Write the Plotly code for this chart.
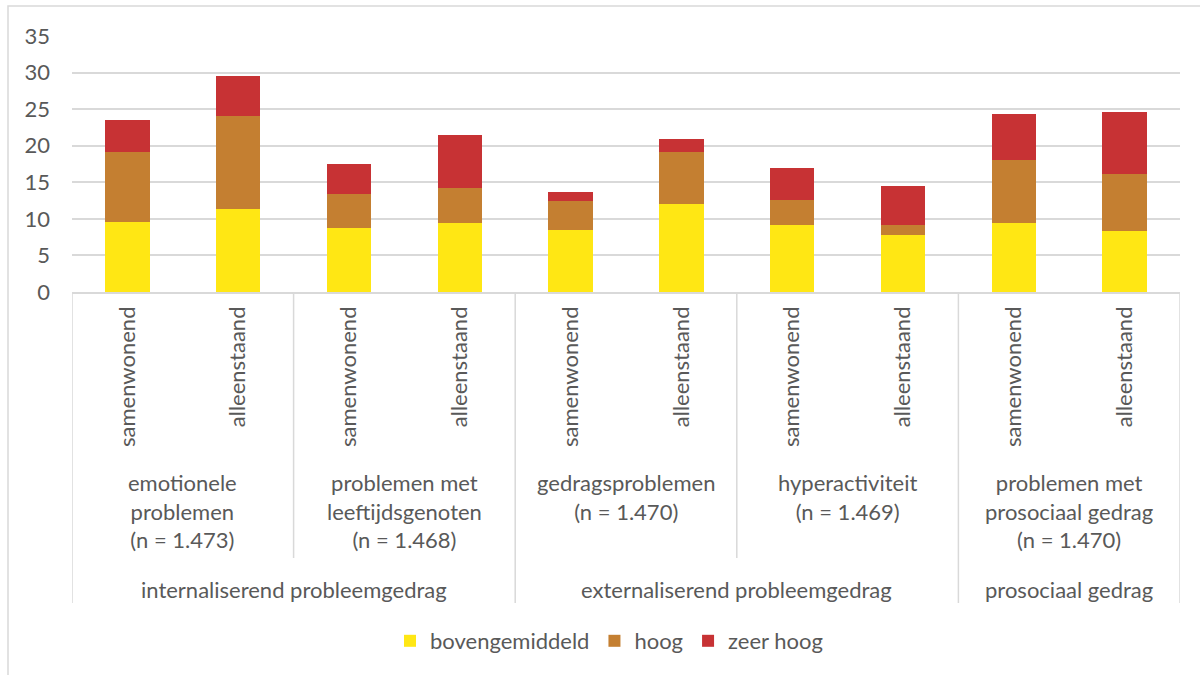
import plotly.graph_objects as go

# ---- data ----
sub_labels = ["samenwonend", "alleenstaand"] * 5
group_labels = [
    "emotionele<br>problemen<br>(n = 1.473)",
    "problemen met<br>leeftijdsgenoten<br>(n = 1.468)",
    "gedragsproblemen<br>(n = 1.470)",
    "hyperactiviteit<br>(n = 1.469)",
    "problemen met<br>prosociaal gedrag<br>(n = 1.470)",
]
group_sizes = [2, 2, 2, 2, 2]
super_labels = ["internaliserend probleemgedrag", "externaliserend probleemgedrag", "prosociaal gedrag"]
super_sizes = [4, 4, 2]

series_names = ["bovengemiddeld", "hoog", "zeer hoog"]
bovengemiddeld = [9.6, 11.3, 8.8, 9.5, 8.5, 12.1, 9.2, 7.8, 9.4, 8.4]
hoog = [9.6, 12.7, 4.6, 4.7, 3.9, 7.1, 3.4, 1.4, 8.7, 7.8]
zeer_hoog = [4.3, 5.6, 4.1, 7.2, 1.3, 1.7, 4.4, 5.3, 6.2, 8.4]
colors = ["#FFE714", "#C47F31", "#C73234"]

y_ticks = [0, 5, 10, 15, 20, 25, 30, 35]

# ---- layout geometry ----
W, H = 1200, 675
ML, MR, MT, MB = 72, 20, 36, 383
PW, PH = W - ML - MR, H - MT - MB
FONT = "Lato"
TXT = "#595959"
GRID = "#D9D9D9"


def pyp(p):
    return (H - MB - p) / PH


def pxp(p):
    return (p - ML) / PW


fig = go.Figure()
xs = list(range(len(sub_labels)))
for name, vals, col in zip(series_names, [bovengemiddeld, hoog, zeer_hoog], colors):
    fig.add_bar(x=xs, y=vals, name=name, marker=dict(color=col, line=dict(width=0)))

shapes = []
annotations = []

# group separators (short) and supergroup separators (long)
super_bounds = [-0.5]
acc = -0.5
for s in super_sizes:
    acc += s
    super_bounds.append(acc)
group_bounds = []
acc = -0.5
for s in group_sizes:
    acc += s
    group_bounds.append(acc)

for b in super_bounds:
    shapes.append(dict(type="line", xref="x", yref="paper", x0=b, x1=b,
                       y0=0, y1=pyp(603), line=dict(color=GRID, width=1.5)))
for b in group_bounds:
    if b not in super_bounds:
        shapes.append(dict(type="line", xref="x", yref="paper", x0=b, x1=b,
                           y0=0, y1=pyp(558), line=dict(color=GRID, width=1.5)))

# group labels
start = 0
for lab, s in zip(group_labels, group_sizes):
    c = start + (s - 1) / 2
    annotations.append(dict(x=c, xref="x", y=pyp(467), yref="paper", text=lab,
                            showarrow=False, xanchor="center", yanchor="top",
                            font=dict(family=FONT, size=22, color=TXT)))
    start += s

# super group labels
start = 0
for lab, s in zip(super_labels, super_sizes):
    c = start + (s - 1) / 2
    annotations.append(dict(x=c, xref="x", y=pyp(589), yref="paper", text=lab,
                            showarrow=False, xanchor="center", yanchor="middle",
                            font=dict(family=FONT, size=22, color=TXT)))
    start += s

# outer chart frame
shapes.append(dict(type="path", xref="paper", yref="paper",
                   path=f"M {pxp(8)} {pyp(700)} L {pxp(8)} {pyp(6)} L {pxp(1220)} {pyp(6)}",
                   line=dict(color=GRID, width=1.5)))

fig.update_layout(
    width=W, height=H,
    margin=dict(l=ML, r=MR, t=MT, b=MB, autoexpand=False),
    template="none",
    paper_bgcolor="white", plot_bgcolor="white",
    barmode="stack", bargap=0.6,
    font=dict(family=FONT, size=22, color=TXT),
    showlegend=True,
    legend=dict(orientation="h", x=pxp(609), xanchor="center", y=pyp(641), yanchor="middle",
                font=dict(family=FONT, size=22, color=TXT), itemwidth=30,
                traceorder="normal", bgcolor="rgba(0,0,0,0)"),
    xaxis=dict(range=[-0.5, len(xs) - 0.5], tickmode="array", tickvals=xs, ticktext=sub_labels,
               tickangle=-90, showgrid=False, zeroline=False, showline=True,
               linecolor=GRID, linewidth=1.5, ticks="", automargin=False,
               ticklabelstandoff=4,
               tickfont=dict(family=FONT, size=22, color=TXT)),
    yaxis=dict(range=[0, 35], tickmode="array", tickvals=y_ticks, showgrid=True,
               gridcolor=GRID, gridwidth=1.5, zeroline=False, showline=False,
               ticks="", automargin=False, ticklabelstandoff=21,
               tickfont=dict(family=FONT, size=22, color=TXT)),
    shapes=shapes,
    annotations=annotations,
)

fig.write_html("out.html", config={"displayModeBar": False},
               post_script="document.body.style.margin='0px';document.body.style.overflow='hidden';")
